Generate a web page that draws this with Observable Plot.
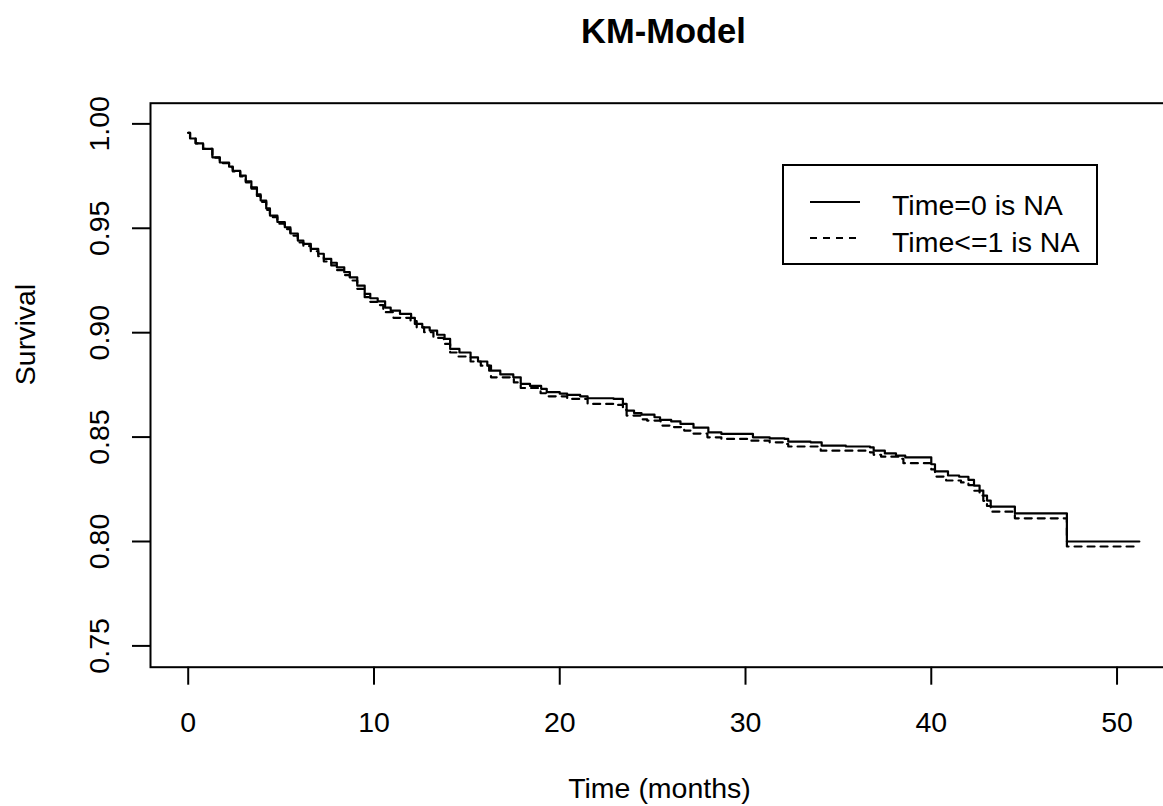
<!DOCTYPE html>
<html><head><meta charset="utf-8">
<script src="https://cdn.jsdelivr.net/npm/d3@7"></script>
<script src="https://cdn.jsdelivr.net/npm/@observablehq/plot@0.6"></script>
<style>
html,body{margin:0;padding:0;background:#fff;overflow:hidden;}
#wrap{position:relative;width:1163px;height:806px;font-family:"Liberation Sans",Arial,sans-serif;}
#legend{position:absolute;left:782px;top:164px;width:316px;height:101px;box-sizing:border-box;border:2px solid #000;background:#fff;}
.lrow{position:absolute;left:108px;height:28px;line-height:28px;font-size:28.5px;white-space:nowrap;color:#000;}
.lsvg{position:absolute;left:26px;}
</style>
</head><body>
<div id="wrap"><div id="chart"></div><div id="legend"></div></div>
<script>
// ---- data ----
const chartTitle = "KM-Model";
const xLabel = "Time (months)";
const yLabel = "Survival";
const seriesNames = ["Time=0 is NA", "Time<=1 is NA"];
const xTicks = [0, 10, 20, 30, 40, 50];
const yTicks = [0.75, 0.80, 0.85, 0.90, 0.95, 1.00];

const solidTime = [0, 0.1, 0.4, 0.8, 1.3, 1.7, 2.2, 2.4, 2.8, 3.1, 3.4, 3.7, 3.9, 4.2, 4.4, 4.8, 5.2, 5.5, 5.9, 6.2, 6.6, 7.0, 7.3, 7.7, 8.0, 8.4, 8.7, 9.1, 9.5, 9.8, 10.2, 10.6, 10.9, 11.4, 12.0, 12.2, 12.6, 13.0, 13.4, 13.8, 14.1, 14.6, 15.2, 15.6, 16.1, 16.2, 16.8, 17.5, 17.9, 18.4, 19.0, 19.3, 20.0, 20.4, 21.1, 21.5, 22.9, 23.4, 23.6, 24.0, 24.4, 25.1, 25.4, 26.0, 26.5, 27.2, 28.0, 28.7, 30.4, 31.3, 32.1, 32.3, 33.5, 34.1, 35.4, 36.7, 36.9, 37.5, 38.1, 38.6, 40.0, 40.2, 40.9, 41.5, 42.0, 42.3, 42.6, 42.8, 43.0, 43.2, 44.5, 47.3, 51.2];
const solidSurv = [0.9957, 0.9930, 0.9907, 0.9880, 0.9840, 0.9815, 0.9795, 0.9775, 0.9752, 0.9725, 0.9696, 0.9662, 0.9633, 0.9595, 0.9561, 0.9530, 0.9505, 0.9475, 0.9441, 0.9425, 0.9401, 0.9378, 0.9353, 0.9335, 0.9313, 0.9290, 0.9265, 0.9225, 0.9186, 0.9165, 0.9150, 0.9120, 0.9106, 0.9090, 0.9071, 0.9042, 0.9025, 0.9010, 0.8990, 0.8970, 0.8922, 0.8905, 0.8882, 0.8862, 0.8842, 0.8818, 0.8800, 0.8786, 0.8755, 0.8745, 0.8731, 0.8715, 0.8708, 0.8702, 0.8695, 0.8686, 0.8683, 0.8659, 0.8627, 0.8615, 0.8608, 0.8595, 0.8582, 0.8575, 0.8563, 0.8545, 0.8523, 0.8515, 0.8499, 0.8494, 0.8491, 0.8478, 0.8475, 0.8459, 0.8455, 0.8451, 0.8435, 0.8422, 0.8411, 0.8403, 0.8370, 0.8336, 0.8316, 0.8310, 0.8295, 0.8268, 0.8244, 0.8220, 0.8196, 0.8167, 0.8135, 0.8000, 0.8000];

const dashTime = [0, 0.1, 0.4, 0.8, 1.3, 1.7, 2.2, 2.4, 2.8, 3.1, 3.4, 3.7, 3.9, 4.2, 4.4, 4.8, 5.2, 5.5, 5.9, 6.2, 6.6, 7.0, 7.3, 7.7, 8.0, 8.4, 8.7, 9.1, 9.5, 9.8, 10.2, 10.5, 11.05, 11.97, 12.3, 12.7, 13.2, 13.76, 14.1, 14.5, 15.2, 15.75, 16.3, 17.53, 17.9, 18.97, 19.3, 20.4, 21.5, 22.9, 23.4, 23.6, 24.4, 24.7, 25.43, 26.0, 26.7, 27.2, 27.95, 28.7, 30.3, 31.3, 32.07, 32.3, 34.05, 36.7, 36.9, 37.3, 38.4, 38.5, 40.0, 40.2, 40.8, 41.6, 42.0, 42.3, 42.6, 42.8, 43.0, 43.2, 44.5, 47.3, 51.2];
const dashSurv = [0.9957, 0.9930, 0.9907, 0.9880, 0.9838, 0.9812, 0.9792, 0.9772, 0.9748, 0.9720, 0.9690, 0.9655, 0.9626, 0.9588, 0.9553, 0.9522, 0.9496, 0.9465, 0.9432, 0.9415, 0.9390, 0.9366, 0.9341, 0.9322, 0.9300, 0.9276, 0.9250, 0.9210, 0.9170, 0.9148, 0.9132, 0.9098, 0.9071, 0.9055, 0.9025, 0.9002, 0.8975, 0.8946, 0.8905, 0.8886, 0.8862, 0.8842, 0.8786, 0.8762, 0.8735, 0.8710, 0.8695, 0.8683, 0.8659, 0.8654, 0.8630, 0.8603, 0.8585, 0.8579, 0.8555, 0.8548, 0.8531, 0.8517, 0.8499, 0.8491, 0.8483, 0.8475, 0.8467, 0.8455, 0.8435, 0.8427, 0.8415, 0.8406, 0.8396, 0.8375, 0.8345, 0.8311, 0.8292, 0.8283, 0.8270, 0.8243, 0.8220, 0.8195, 0.8170, 0.8143, 0.8111, 0.7976, 0.7976];

const dashPatterns = [null, "7,6"];

// ---- build ----
const solidData = solidTime.map((t, i) => ({t, s: solidSurv[i]}));
const dashData = dashTime.map((t, i) => ({t, s: dashSurv[i]}));

const chart = Plot.plot({
  width: 1163,
  height: 806,
  marginLeft: 150,
  marginRight: -5,
  marginTop: 102.7,
  marginBottom: 139.3,
  style: {fontFamily: '"Liberation Sans", Arial, sans-serif', fontSize: "28px", color: "#000", background: "#fff"},
  x: {domain: [-2.03, 52.77]},
  y: {domain: [0.7398, 1.0099]},
  marks: [
    Plot.frame({stroke: "#000", strokeWidth: 2}),
    Plot.axisX({ticks: xTicks, tickSize: 18, tickPadding: 27, fontSize: 28.5, strokeWidth: 2, label: null, tickFormat: d => String(d)}),
    Plot.axisY({ticks: yTicks, tickSize: 18, tickPadding: 24, tickRotate: -90, fontSize: 28.5, strokeWidth: 2, label: null, tickFormat: d => d.toFixed(2)}),
    Plot.line(dashData, {x: "t", y: "s", curve: "step-after", stroke: "#000", strokeWidth: 2.2, strokeDasharray: dashPatterns[1]}),
    Plot.line(solidData, {x: "t", y: "s", curve: "step-after", stroke: "#000", strokeWidth: 2.2}),
    Plot.text([chartTitle], {frameAnchor: "top", dx: 4, dy: -59.7, lineAnchor: "bottom", fontWeight: "bold", fontSize: 34.5, fill: "#000"}),
    Plot.text([xLabel], {frameAnchor: "bottom", dy: 122, lineAnchor: "middle", fontSize: 28.5, fill: "#000"}),
    Plot.text([yLabel], {frameAnchor: "left", dx: -125, rotate: -90, lineAnchor: "middle", fontSize: 28.5, fill: "#000"})
  ]
});
document.getElementById("chart").appendChild(chart);

// ---- legend ----
const legend = document.getElementById("legend");
const rowLineY = [35.7, 72];
const rowTextTop = [25.3, 62];
seriesNames.forEach((name, i) => {
  const ns = "http://www.w3.org/2000/svg";
  const svg = document.createElementNS(ns, "svg");
  svg.setAttribute("class", "lsvg");
  svg.setAttribute("width", "52");
  svg.setAttribute("height", "10");
  svg.style.top = (rowLineY[i] - 5) + "px";
  const ln = document.createElementNS(ns, "line");
  ln.setAttribute("x1", "0"); ln.setAttribute("x2", "50");
  ln.setAttribute("y1", "5"); ln.setAttribute("y2", "5");
  ln.setAttribute("stroke", "#000"); ln.setAttribute("stroke-width", "2");
  if (dashPatterns[i]) ln.setAttribute("stroke-dasharray", dashPatterns[i]);
  svg.appendChild(ln);
  legend.appendChild(svg);
  const tx = document.createElement("div");
  tx.className = "lrow";
  tx.style.top = rowTextTop[i] + "px";
  tx.textContent = name;
  legend.appendChild(tx);
});
</script>
</body></html>
